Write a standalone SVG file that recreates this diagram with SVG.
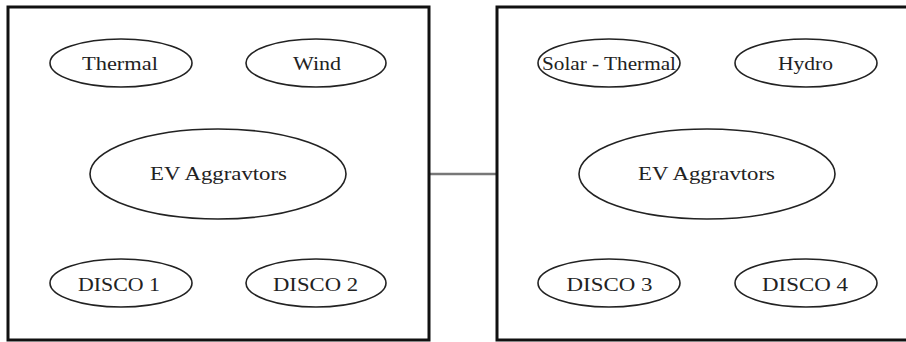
<svg xmlns="http://www.w3.org/2000/svg" width="906" height="342" viewBox="0 0 906 342">
<style>
.box{fill:#fff;stroke:#111;stroke-width:3}
.node ellipse{fill:#fff;stroke:#222;stroke-width:1.6}
.node text{font-family:"Liberation Serif","Times New Roman",serif;font-size:18px;fill:#222;text-anchor:middle}
.conn{stroke:#777;stroke-width:2.5;fill:none}
</style>
<rect x="0" y="0" width="906" height="342" fill="#fff"/>
<g id="connectors">
<line class="conn" x1="429" y1="174" x2="497" y2="174"/>
</g>
<g id="group-left">
<rect class="box" x="8" y="7" width="421" height="333"/>
</g>
<g id="group-right">
<rect class="box" x="497" y="7" width="420" height="333"/>
</g>
<g id="thermal" class="node">
<ellipse cx="121" cy="63" rx="71" ry="24"/>
<text x="120" y="70" textLength="76" lengthAdjust="spacingAndGlyphs">Thermal</text>
</g>
<g id="wind" class="node">
<ellipse cx="316" cy="63" rx="70" ry="24"/>
<text x="317" y="70" textLength="48" lengthAdjust="spacingAndGlyphs">Wind</text>
</g>
<g id="ev-left" class="node">
<ellipse cx="218" cy="174" rx="128" ry="45"/>
<text x="218.5" y="180" textLength="137" lengthAdjust="spacingAndGlyphs">EV Aggravtors</text>
</g>
<g id="disco1" class="node">
<ellipse cx="121" cy="283" rx="71" ry="24"/>
<text x="119" y="291" textLength="82" lengthAdjust="spacingAndGlyphs">DISCO 1</text>
</g>
<g id="disco2" class="node">
<ellipse cx="316" cy="283" rx="70" ry="24"/>
<text x="315.5" y="291" textLength="85" lengthAdjust="spacingAndGlyphs">DISCO 2</text>
</g>
<g id="solar-thermal" class="node">
<ellipse cx="609" cy="63" rx="71" ry="24"/>
<text x="609" y="70" textLength="134" lengthAdjust="spacingAndGlyphs">Solar - Thermal</text>
</g>
<g id="hydro" class="node">
<ellipse cx="806" cy="63" rx="71" ry="24"/>
<text x="805.5" y="70" textLength="55" lengthAdjust="spacingAndGlyphs">Hydro</text>
</g>
<g id="ev-right" class="node">
<ellipse cx="707" cy="174" rx="128" ry="45"/>
<text x="706.5" y="180" textLength="137" lengthAdjust="spacingAndGlyphs">EV Aggravtors</text>
</g>
<g id="disco3" class="node">
<ellipse cx="609" cy="283" rx="71" ry="24"/>
<text x="609.5" y="291" textLength="86" lengthAdjust="spacingAndGlyphs">DISCO 3</text>
</g>
<g id="disco4" class="node">
<ellipse cx="806" cy="283" rx="71" ry="24"/>
<text x="805" y="291" textLength="86" lengthAdjust="spacingAndGlyphs">DISCO 4</text>
</g>
</svg>
